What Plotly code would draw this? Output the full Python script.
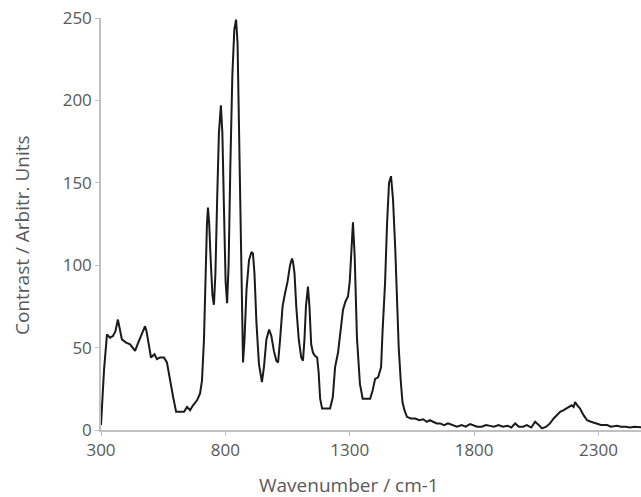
import plotly.graph_objects as go

wavenumber = [300, 312, 324, 336, 348, 358, 368, 376, 384, 401, 417, 427, 437, 447, 457, 467, 477, 483, 489, 501, 515, 525, 537, 553,
              565, 577, 590, 602, 618, 634, 646, 658, 670, 686, 698, 706, 714, 720, 726, 730, 735, 742, 748, 754,
              760, 767, 774, 782, 788, 795, 801, 807, 813, 820, 828, 836, 843, 849, 855, 861, 866, 871,
              877, 885, 895, 905, 911, 917, 925, 935, 947, 955, 965, 976, 985, 995, 1005, 1012,
              1020, 1030, 1040, 1050, 1060, 1068, 1072, 1078, 1085, 1095, 1105, 1112, 1118, 1124, 1132, 1138,
              1145, 1152, 1160, 1169, 1175, 1181, 1189, 1205, 1221, 1232, 1241, 1253, 1263, 1273, 1283, 1293,
              1300, 1307, 1313, 1320, 1329, 1341, 1352, 1362, 1382, 1392, 1402, 1414, 1426, 1432, 1442,
              1450, 1458, 1466, 1474, 1483, 1490, 1497, 1505, 1512, 1520, 1530, 1545, 1563, 1580, 1595,
              1610, 1622, 1635, 1650, 1663, 1680, 1695, 1710, 1731, 1750, 1766, 1784, 1800, 1812, 1830,
              1848, 1864, 1880, 1898, 1916, 1935, 1950, 1965, 1980, 1997, 2012, 2030, 2045, 2060, 2073,
              2090, 2105, 2120, 2135, 2146, 2160, 2178, 2192, 2200, 2206, 2215, 2226, 2240, 2254, 2270,
              2294, 2310, 2335, 2350, 2375, 2390, 2410, 2427, 2445, 2467, 2480]
contrast = [3, 36, 58, 56, 57, 60, 67, 60, 55, 53, 52, 50, 48, 52, 56, 60, 63, 60, 55, 44, 46, 43, 44, 44,
            41, 30, 20, 11, 11, 11, 14, 12, 15, 18, 22, 30, 55, 95, 125, 135, 125, 100, 82, 76,
            95, 140, 180, 197, 180, 130, 90, 77, 100, 160, 215, 243, 249, 235, 180, 110, 60, 41,
            55, 85, 103, 108, 107, 95, 65, 40, 29, 38, 55, 61, 57, 48, 42, 41,
            55, 75, 83, 90, 100, 104, 102, 95, 75, 55, 44, 42, 55, 75, 87, 75,
            52, 47, 45, 44, 35, 19, 13, 13, 13, 20, 38, 47, 60, 73, 78, 81,
            90, 115, 126, 105, 56, 28, 19, 19, 19, 24, 31, 32, 38, 60, 89,
            125, 150, 154, 140, 110, 79, 50, 30, 17, 12, 8, 7, 7, 6, 6.5,
            5, 6, 5, 4, 4, 3, 4, 3, 2, 3, 2, 3.6, 2.5, 2, 2,
            3, 2.5, 2, 3, 2, 2.5, 1.5, 4, 2, 2, 3, 1.5, 5, 3, 1,
            2, 4, 7, 9, 11, 12, 14, 15, 14, 17, 15, 13, 9, 6, 5,
            4, 3, 3, 2, 2.5, 2, 2, 1.5, 2, 1.5, 1.5]

x_ticks = [300, 800, 1300, 1800, 2300]
y_ticks = [0, 50, 100, 150, 200, 250]

FONT = "Open Sans, Noto Sans, sans-serif"
fig = go.Figure()
fig.add_trace(go.Scatter(x=wavenumber, y=contrast, mode="lines",
                         line=dict(color="#1a1a1a", width=2), showlegend=False))

tick_font = dict(family=FONT, size=17, color="#595959")
title_font = dict(family=FONT, size=19, color="#595959")
fig.update_layout(
    width=641, height=497,
    margin=dict(l=101, r=0, t=18, b=67),
    paper_bgcolor="white", plot_bgcolor="white",
    xaxis=dict(range=[300, 2471], tickvals=x_ticks, ticktext=[str(v) for v in x_ticks],
               showgrid=False, zeroline=False, showline=True, linecolor="#c0c0c0", linewidth=1.5,
               ticks="outside", ticklen=4, tickcolor="#c0c0c0", tickfont=tick_font),
    yaxis=dict(range=[0, 250], tickvals=y_ticks, ticktext=[str(v) for v in y_ticks],
               showgrid=False, zeroline=False, showline=True, linecolor="#c0c0c0", linewidth=1.5,
               ticks="outside", ticklen=4, tickcolor="#c0c0c0", tickfont=tick_font),
    annotations=[
        dict(text="Wavenumber / cm-1", xref="paper", yref="paper", x=(349 - 101) / 540,
             y=-(485 - 430) / 412, xanchor="center", yanchor="middle", showarrow=False, font=title_font),
        dict(text="Contrast / Arbitr. Units", xref="paper", yref="paper", x=(22 - 101) / 540,
             y=(430 - 235) / 412, xanchor="center", yanchor="middle", textangle=-90,
             showarrow=False, font=title_font),
    ],
)

fig.write_html("out.html")
